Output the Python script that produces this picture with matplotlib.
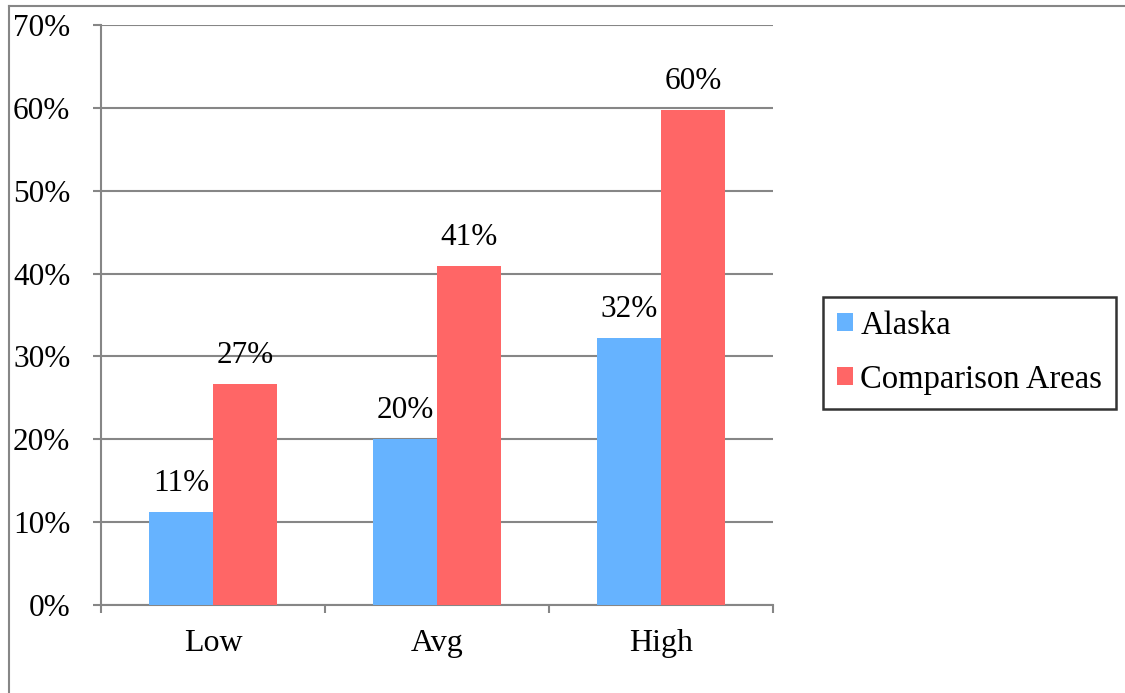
import matplotlib
matplotlib.use("Agg")
import matplotlib.pyplot as plt
import numpy as np
from matplotlib.lines import Line2D
from matplotlib.ticker import FixedLocator, PercentFormatter

plt.rcParams["font.family"] = ["Liberation Serif", "DejaVu Serif"]

categories = ["Low", "Avg", "High"]
alaska = [0.112, 0.200, 0.322]
comparison = [0.267, 0.409, 0.597]
series_names = ["Alaska", "Comparison Areas"]
colors = ["#66B3FF", "#FF6666"]
grid_color = "#868686"

fig = plt.figure(figsize=(11.25, 6.93), dpi=100)
ax = fig.add_axes([0.0898, 0.127, 0.5973, 0.8369])

x = np.arange(len(categories))
w = 0.286
bars_a = ax.bar(x - w / 2, alaska, w, color=colors[0], label=series_names[0], zorder=3)
bars_c = ax.bar(x + w / 2, comparison, w, color=colors[1], label=series_names[1], zorder=3)

for bars, vals in ((bars_a, alaska), (bars_c, comparison)):
    for b, v in zip(bars, vals):
        ax.annotate(f"{v * 100:.0f}%", (b.get_x() + b.get_width() / 2, v),
                    xytext=(0, 10), textcoords="offset points",
                    ha="center", va="bottom", fontsize=22.5)

ax.set_xlim(-0.5, 2.5)
ax.set_ylim(0, 0.70)
ax.set_yticks(np.arange(0, 0.71, 0.10))
ax.yaxis.set_major_formatter(PercentFormatter(1.0, decimals=0))
ax.yaxis.grid(True, color=grid_color, lw=1.5, zorder=0)

# category labels centred, tick marks on category boundaries
ax.set_xticks(x)
ax.set_xticklabels(categories)
ax.xaxis.set_minor_locator(FixedLocator([-0.5, 0.5, 1.5, 2.5]))
ax.tick_params(axis="x", which="major", length=0, pad=17, labelsize=23)
ax.tick_params(axis="x", which="minor", length=6, width=1.5, color=grid_color, direction="out")
ax.tick_params(axis="y", length=6, width=1.5, color=grid_color, pad=16, labelsize=22.5)

for side in ("top", "right"):
    ax.spines[side].set_visible(False)
for side in ("left", "bottom"):
    ax.spines[side].set_color(grid_color)
    ax.spines[side].set_linewidth(1.5)

leg = fig.legend(loc="center left", bbox_to_anchor=(0.7316, 0.491),
                 bbox_transform=fig.transFigure, fontsize=23.5, frameon=True,
                 fancybox=False, edgecolor="black", handlelength=0.5,
                 handleheight=0.46, handletextpad=0.22, borderpad=0.42,
                 labelspacing=0.72, borderaxespad=0)
leg.get_frame().set_linewidth(1.8)

# outer chart border (left and top edges)
fig.add_artist(Line2D([0.008, 0.008], [0.0, 0.991], transform=fig.transFigure,
                      color=grid_color, lw=1.5))
fig.add_artist(Line2D([0.008, 1.0], [0.991, 0.991], transform=fig.transFigure,
                      color=grid_color, lw=1.5))

fig.savefig("out.png", dpi=100)
